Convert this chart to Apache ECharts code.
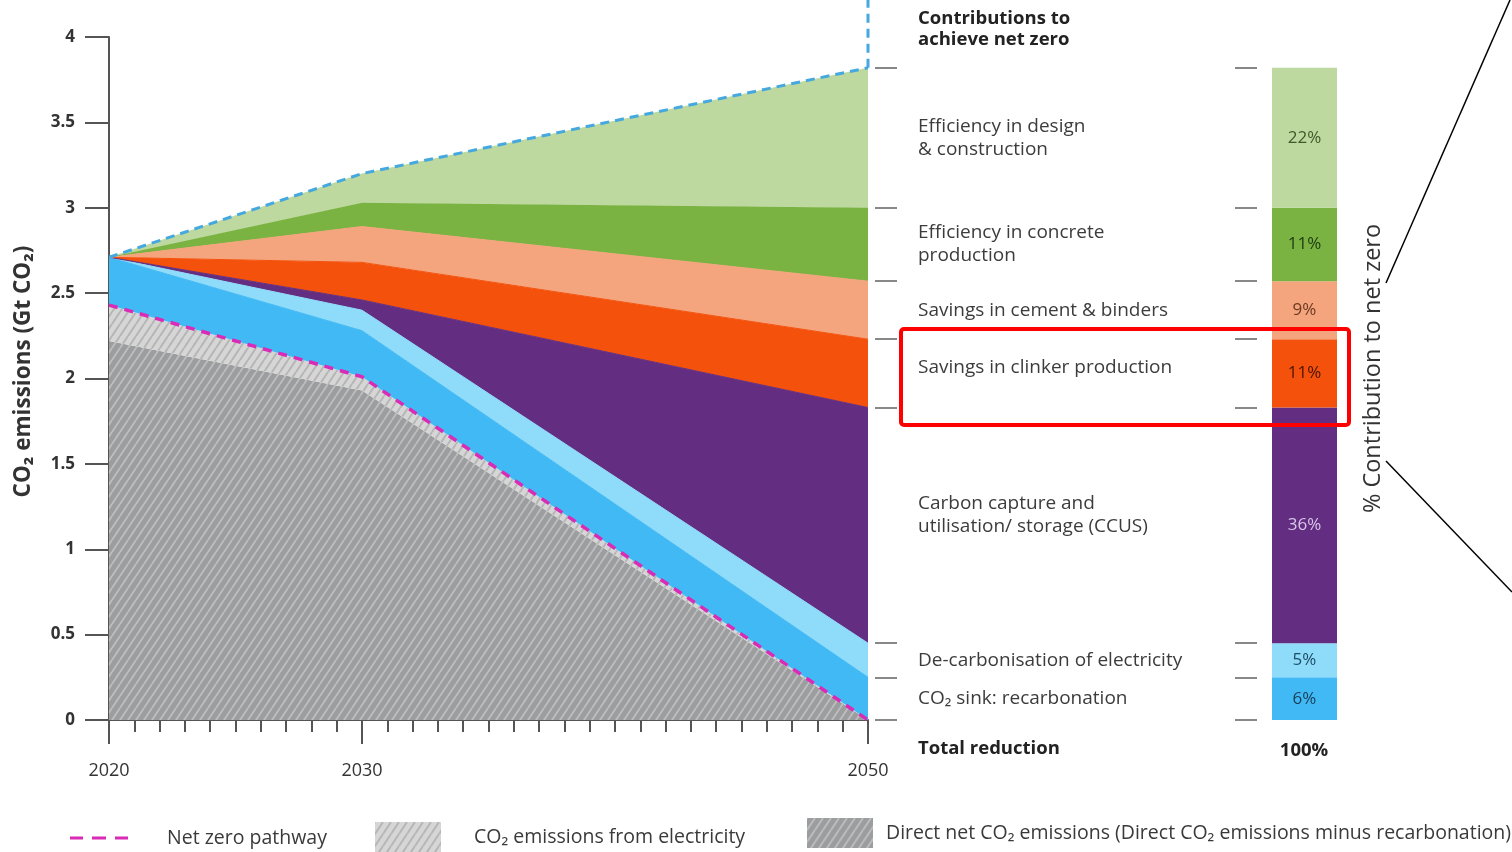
<!DOCTYPE html>
<html><head><meta charset="utf-8">
<script src="https://cdn.jsdelivr.net/npm/echarts@6/dist/echarts.min.js"></script>
<style>html,body{margin:0;padding:0;background:#fff}#c{width:1512px;height:852px}</style>
</head><body><div id="c"></div>
<script>
// ---------- DATA ----------
const years = [2020, 2030, 2050];
const directNet          = [2.22, 1.93, 0.00];
const electricityEmis    = [0.21, 0.08, 0.00];
const recarbonation      = [0.28, 0.27, 0.25];
const decarbElectricity  = [0.00, 0.12, 0.20];
const ccus               = [0.00, 0.06, 1.38];
const clinker            = [0.00, 0.22, 0.40];
const cementBinders      = [0.00, 0.21, 0.34];
const concreteProduction = [0.00, 0.14, 0.43];
const designConstruction = [0.00, 0.17, 0.82];
const netZeroPathway     = [2.43, 2.01, 0.00];
const yTickValues = [0, 0.5, 1, 1.5, 2, 2.5, 3, 3.5, 4];
const xLabelYears = [2020, 2030, 2050];
// contributions, bottom to top
const contributionNames = ['CO₂ sink: recarbonation', 'De-carbonisation of electricity',
  'Carbon capture and\nutilisation/ storage (CCUS)', 'Savings in clinker production',
  'Savings in cement & binders', 'Efficiency in concrete\nproduction', 'Efficiency in design\n& construction'];
const contributionPct = ['6%', '5%', '36%', '11%', '9%', '11%', '22%'];
const contributionLayers = [recarbonation, decarbElectricity, ccus, clinker, cementBinders, concreteProduction, designConstruction];
const totalPct = '100%';

// ---------- STYLE ----------
const FONT = '"Open Sans", Lato, sans-serif';
const layerColors = ['#41b9f5', '#8fdbfa', '#632e82', '#f4510c', '#f5a57d', '#7ab342', '#bdd99f'];
const pctColors = ['#173f58', '#1e4f66', '#d9c6ea', '#4a1500', '#6a3a20', '#1d3a10', '#3d5a2b'];
const labelShift = [0, 0, 10, 6, 0, 0, 0]; // px upward nudge of category text

function hatch(bg, fg, w, h, lw) {
  const c = document.createElement('canvas'); c.width = w; c.height = h;
  const g = c.getContext('2d');
  g.fillStyle = bg; g.fillRect(0, 0, w, h);
  g.strokeStyle = fg; g.lineWidth = lw;
  g.beginPath();
  for (let k = -1; k <= 1; k++) { g.moveTo(k * w, h); g.lineTo(k * w + w, 0); }
  g.stroke();
  return { image: c, repeat: 'repeat' };
}
const darkHatch = hatch('#9c9d9f', '#bcbcbe', 8, 12, 2);
const lightHatch = hatch('#d6d6d6', '#b6b6b6', 8, 12, 2);

const pairs = v => years.map((y, i) => [y, v[i]]);
const pairsValueFirst = v => years.map((y, i) => [v[i], y]);
const sum = arr => arr.reduce((a, b) => a + b, 0);
const last = v => v[v.length - 1];

function area(name, vals, color, extra) {
  return Object.assign({
    name, type: 'line', stack: 'total', xAxisIndex: 0, yAxisIndex: 0,
    data: pairsValueFirst(vals), encode: { x: 1, y: 0 },
    symbol: 'none', showSymbol: false, silent: true,
    lineStyle: { width: 1, color: color },
    itemStyle: { color: color },
    areaStyle: { color: color, opacity: 1 },
    z: 2
  }, extra || {});
}

const series = [
  area('Direct net CO₂ emissions (Direct CO₂ emissions minus recarbonation)', directNet, darkHatch, { lineStyle: { width: 0 } }),
  area('CO₂ emissions from electricity', electricityEmis, lightHatch, { lineStyle: { width: 0 } }),
];
contributionLayers.forEach((v, i) => {
  const extra = i === contributionLayers.length - 1
    ? { lineStyle: { width: 3, color: '#45a8de', type: [9, 6] }, z: 4 } : {};
  series.push(area(contributionNames[i].replace('\n', ' '), v, layerColors[i], extra));
});
// vertical dashed continuation above 2050 total
const total2050 = sum(contributionLayers.map(last));
series.push({
  type: 'line', xAxisIndex: 0, yAxisIndex: 0, data: [[2050, total2050], [2050, 4.3]],
  symbol: 'none', clip: false, silent: true, z: 4,
  lineStyle: { width: 3, color: '#45a8de', type: [9, 6] }
});
series.push({
  name: 'Net zero pathway', type: 'line', xAxisIndex: 0, yAxisIndex: 0, data: pairs(netZeroPathway),
  symbol: 'none', showSymbol: false, silent: true, z: 5,
  lineStyle: { width: 3.5, color: '#d92bb6', type: [9, 7] },
  itemStyle: { color: '#d92bb6' }
});
// stacked bar of 2050 contributions
contributionLayers.forEach((v, i) => {
  series.push({
    type: 'bar', stack: 'bar', xAxisIndex: 2, yAxisIndex: 1, barWidth: '100%', silent: true,
    data: [last(v)], itemStyle: { color: layerColors[i] },
    label: { show: true, position: 'inside', formatter: contributionPct[i], color: pctColors[i],
      fontSize: 17, fontFamily: FONT }
  });
});

// boundaries at 2050 (cumulative)
const bounds = [0];
contributionLayers.forEach(v => bounds.push(bounds[bounds.length - 1] + last(v)));
const mids = bounds.slice(0, -1).map((b, i) => (b + bounds[i + 1]) / 2);
const nearestMid = val => { let best = 0; mids.forEach((m, i) => { if (Math.abs(m - val) < Math.abs(mids[best] - val)) best = i; }); return best; };
const richName = {};
labelShift.forEach((s, i) => { richName['n' + i] = { fontSize: 19, lineHeight: 23, color: '#3c3c3c', fontFamily: FONT, padding: [0, 0, 2 * s, 0] }; });

const LEG = { fontSize: 19.5, color: '#3a3a3a', fontFamily: FONT };
const option = {
  animation: false,
  backgroundColor: '#fff',
  textStyle: { fontFamily: FONT },
  grid: [
    { left: 109, top: 37, width: 759, height: 683 },
    { left: 1272, top: 37, width: 65, height: 683 }
  ],
  xAxis: [
    { type: 'value', gridIndex: 0, min: 2020, max: 2050, splitLine: { show: false },
      axisLine: { show: true, lineStyle: { color: '#555', width: 2 } },
      axisTick: { show: true, customValues: xLabelYears, length: 24, lineStyle: { color: '#555', width: 2 } },
      axisLabel: { customValues: xLabelYears, margin: 42, fontSize: 18, color: '#333', fontFamily: FONT, fontWeight: 500, formatter: v => String(v) } },
    { type: 'value', gridIndex: 0, min: 2020, max: 2050, interval: 1, position: 'bottom', splitLine: { show: false },
      axisLine: { show: false }, axisLabel: { show: false },
      axisTick: { show: true, length: 12, lineStyle: { color: '#555', width: 2 } } },
    { type: 'category', gridIndex: 1, data: ['2050'], show: false }
  ],
  yAxis: [
    { type: 'value', gridIndex: 0, min: 0, max: 4, interval: 0.5, splitLine: { show: false },
      axisLine: { show: true, lineStyle: { color: '#555', width: 2 } },
      axisTick: { show: true, length: 24, lineStyle: { color: '#555', width: 2 } },
      axisLabel: { fontSize: 17, fontWeight: 'bold', color: '#333', margin: 34, fontFamily: FONT },
      name: 'CO₂ emissions (Gt CO₂)', nameLocation: 'middle', nameRotate: 90, nameGap: 74,
      nameTextStyle: { fontSize: 22.5, fontWeight: 'bold', color: '#333', fontFamily: FONT, padding: [0, 0, 0, 14] } },
    { type: 'value', gridIndex: 1, min: 0, max: 4, position: 'left', offset: 15, splitLine: { show: false },
      axisLine: { show: false },
      axisTick: { show: true, customValues: bounds, length: 22, lineStyle: { color: '#888', width: 2 } },
      axisLabel: { customValues: mids, align: 'left', margin: 339, fontSize: 19, lineHeight: 23,
        color: '#3c3c3c', fontFamily: FONT, rich: richName,
        formatter: (val) => { const i = nearestMid(val); return contributionNames[i].split('\n').map(t => '{n' + i + '|' + t + '}').join('\n'); } } },
    { type: 'value', gridIndex: 1, min: 0, max: 4, position: 'right', splitLine: { show: false },
      axisLine: { show: false }, axisTick: { show: false }, axisLabel: { show: false },
      name: '% Contribution to net zero', nameLocation: 'middle', nameRotate: 90, nameGap: 24,
      nameTextStyle: { fontSize: 23.5, color: '#333', fontFamily: FONT, fontWeight: 500, padding: [0, 0, 0, 20] } },
    { type: 'value', gridIndex: 0, min: 0, max: 4, position: 'right', offset: 7, splitLine: { show: false },
      axisLine: { show: false }, axisLabel: { show: false },
      axisTick: { show: true, customValues: bounds, length: 22, lineStyle: { color: '#888', width: 2 } } }
  ],
  legend: [
    { left: 70, top: 828, padding: 0, itemWidth: 58, itemHeight: 4, selectedMode: false,
      textStyle: Object.assign({ padding: [0, 0, 0, 34] }, LEG),
      data: [{ name: 'Net zero pathway', icon: 'path://M0,0h13v3h-13z M22,0h14v3h-14z M45,0h13v3h-13z', itemStyle: { color: '#d92bb6' } }] },
    { left: 375, top: 822, padding: 0, itemWidth: 66, itemHeight: 30, selectedMode: false,
      textStyle: Object.assign({ padding: [0, 0, 0, 28] }, LEG),
      data: [{ name: 'CO₂ emissions from electricity', icon: 'rect', itemStyle: { color: lightHatch, borderWidth: 0 } }] },
    { left: 807, top: 818, padding: 0, itemWidth: 66, itemHeight: 30, selectedMode: false,
      textStyle: Object.assign({ padding: [0, 0, 0, 8] }, LEG),
      data: [{ name: 'Direct net CO₂ emissions (Direct CO₂ emissions minus recarbonation)', icon: 'rect', itemStyle: { color: darkHatch, borderWidth: 0 } }] }
  ],
  graphic: [
    { type: 'text', left: 918, top: 8, style: { text: 'Contributions to\nachieve net zero', font: 'bold 18.5px ' + FONT, lineHeight: 21, fill: '#222' } },
    { type: 'text', left: 918, top: 739, style: { text: 'Total reduction', font: 'bold 18.5px ' + FONT, fill: '#222' } },
    { type: 'text', x: 1304, y: 751, style: { text: totalPct, font: 'bold 18.5px ' + FONT, fill: '#222', align: 'center', verticalAlign: 'middle' } },
    { type: 'rect', shape: { x: 901, y: 329, width: 448, height: 96, r: 3 }, style: { fill: 'none', stroke: '#ff0000', lineWidth: 4 }, z: 10 },
    { type: 'line', shape: { x1: 1386, y1: 283, x2: 1510, y2: 0 }, style: { stroke: '#000', lineWidth: 1.5 } },
    { type: 'line', shape: { x1: 1386, y1: 461, x2: 1512, y2: 592 }, style: { stroke: '#000', lineWidth: 1.5 } }
  ],
  series
};
const chart = echarts.init(document.getElementById('c'));
chart.setOption(option);
</script></body></html>
